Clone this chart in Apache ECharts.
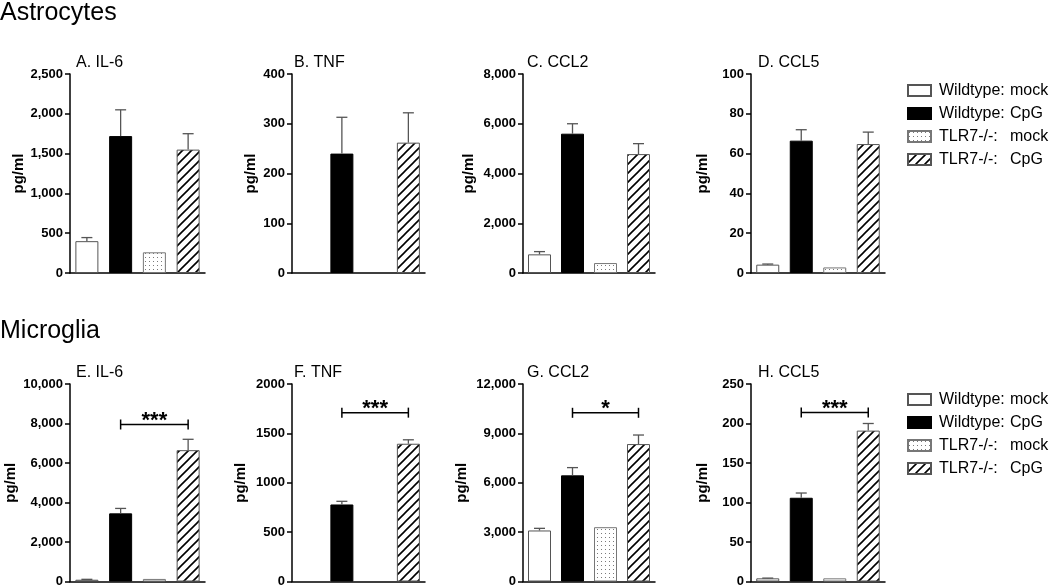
<!DOCTYPE html>
<html>
<head>
<meta charset="utf-8">
<script src="https://cdn.jsdelivr.net/npm/echarts@6/dist/echarts.min.js"></script>
<style>
html,body{margin:0;padding:0;background:#fff;}
#chart{width:1050px;height:588px;}
</style>
</head>
<body>
<div id="chart"></div>
<script>
// ---- DATA ----
const groups = ['Wildtype: mock', 'Wildtype: CpG', 'TLR7-/-: mock', 'TLR7-/-: CpG'];
const panelTitles = ['A. IL-6', 'B. TNF', 'C. CCL2', 'D. CCL5', 'E. IL-6', 'F. TNF', 'G. CCL2', 'H. CCL5'];
const yMax = [2500, 400, 8000, 100, 10000, 2000, 12000, 250];
const yInterval = [500, 100, 2000, 20, 2000, 500, 3000, 50];
const useComma = [true, true, true, true, true, false, true, true];
// means per panel (A..H); null = not shown
const wtMock = [400, null, 750, 4.2, 90, null, 3100, 4];
const wtCpG = [1720, 240, 5600, 66.5, 3450, 780, 6450, 106];
const koMock = [260, null, 400, 2.8, 130, null, 3300, 4];
const koCpG = [1550, 262, 4780, 64.8, 6650, 1395, 8350, 191];
// upper end of error bars (mean + SEM); null = none visible
const wtMockErr = [445, null, 860, 4.5, 110, null, 3230, 4.3];
const wtCpGErr = [2050, 313, 6000, 72, 3700, 812, 6920, 112];
const koMockErr = [null, null, null, null, null, null, null, null];
const koCpGErr = [1750, 322, 5200, 70.8, 7200, 1435, 8900, 200];
// significance brackets for panels E..H (index 4..7)
const bracketPanels = [4, 5, 6, 7];
const bracketY = [7950, 1710, 10250, 214];
const bracketLabels = ['***', '***', '*', '***'];
const sectionTitles = ['Astrocytes', 'Microglia'];

// ---- STYLE / LAYOUT ----
const FONT = "'Liberation Sans', Arial, Helvetica, sans-serif";
const colLeft = [70, 292, 523, 751];
const colWidth = [135, 133, 132, 134];
const rowTop = [74, 384];
const gridH = 199;
const nameGaps = [44, 34, 47, 41, 52, 44, 54, 41];
const titleLeft = [76, 294, 527, 758];

function makeHatch() {
  const c = document.createElement('canvas');
  c.width = 9; c.height = 9;
  const g = c.getContext('2d');
  g.fillStyle = '#fff'; g.fillRect(0, 0, 9, 9);
  g.strokeStyle = '#000'; g.lineWidth = 1.6;
  g.beginPath();
  g.moveTo(-1, 10); g.lineTo(10, -1);
  g.moveTo(-5, 5); g.lineTo(5, -5);
  g.moveTo(4, 14); g.lineTo(14, 4);
  g.stroke();
  return c;
}
function makeDots() {
  const c = document.createElement('canvas');
  c.width = 4; c.height = 4;
  const g = c.getContext('2d');
  g.fillStyle = '#fff'; g.fillRect(0, 0, 4, 4);
  g.fillStyle = '#7a7a7a'; g.fillRect(1, 1, 1, 1);
  return c;
}
const groupStyles = [
  { color: '#ffffff', borderColor: '#555', borderWidth: 1 },
  { color: '#000000', borderColor: '#000', borderWidth: 1 },
  { color: { image: makeDots(), repeat: 'repeat' }, borderColor: '#777', borderWidth: 1 },
  { color: { image: makeHatch(), repeat: 'repeat' }, borderColor: '#555', borderWidth: 1 }
];
const means = [wtMock, wtCpG, koMock, koCpG];
const errs = [wtMockErr, wtCpGErr, koMockErr, koCpGErr];

const grids = [], xAxes = [], yAxes = [], series = [], titles = [];
sectionTitles.forEach((t, r) => {
  titles.push({ text: t, left: 0, top: r === 0 ? 1 : 319, padding: 0,
    textStyle: { fontFamily: FONT, fontSize: 25, fontWeight: 'normal', color: '#000' } });
});
for (let p = 0; p < 8; p++) {
  const r = Math.floor(p / 4), c = p % 4;
  grids.push({ left: colLeft[c], width: colWidth[c], top: rowTop[r], height: gridH });
  titles.push({ text: panelTitles[p], left: titleLeft[c], top: rowTop[r] - 19, padding: 0,
    textStyle: { fontFamily: FONT, fontSize: 16, fontWeight: 'normal', color: '#000' } });
  xAxes.push({ type: 'category', gridIndex: p, data: groups,
    axisLine: { lineStyle: { color: '#000', width: 1.5 } },
    axisTick: { show: false }, axisLabel: { show: false } });
  const comma = useComma[p];
  yAxes.push({ type: 'value', gridIndex: p, min: 0, max: yMax[p], interval: yInterval[p],
    name: 'pg/ml', nameLocation: 'middle', nameGap: nameGaps[p],
    nameTextStyle: { fontFamily: FONT, fontSize: 15, fontWeight: 'bold', color: '#000' },
    axisLine: { show: true, lineStyle: { color: '#000', width: 1.5 } },
    axisTick: { show: true, length: 5, lineStyle: { color: '#000', width: 1.5 } },
    splitLine: { show: false },
    axisLabel: { fontFamily: FONT, fontSize: 13, fontWeight: 'bold', color: '#000', margin: 7,
      formatter: v => comma ? v.toLocaleString('en-US') : String(v) } });
  for (let g = 0; g < 4; g++) {
    const d = groups.map((_, i) => (i === g && means[g][p] != null) ? means[g][p] : '-');
    series.push({ type: 'bar', name: groups[g], xAxisIndex: p, yAxisIndex: p, stack: 'p' + p,
      barWidth: 23, data: d, itemStyle: groupStyles[g], animation: false, z: 2 });
  }
  const errData = [];
  for (let g = 0; g < 4; g++) {
    if (errs[g][p] != null && means[g][p] != null) errData.push([g, errs[g][p], means[g][p]]);
  }
  series.push({ type: 'custom', xAxisIndex: p, yAxisIndex: p, data: errData, z: 3, animation: false,
    renderItem: (params, api) => {
      const top = api.coord([api.value(0), api.value(1)]);
      const bot = api.coord([api.value(0), api.value(2)]);
      const st = { stroke: '#555', lineWidth: 1.3 };
      return { type: 'group', children: [
        { type: 'line', shape: { x1: top[0], y1: bot[1], x2: top[0], y2: top[1] }, style: st },
        { type: 'line', shape: { x1: top[0] - 5.5, y1: top[1], x2: top[0] + 5.5, y2: top[1] }, style: st }
      ] };
    } });
}
bracketPanels.forEach((p, k) => {
  series.push({ type: 'custom', xAxisIndex: p, yAxisIndex: p, z: 4, animation: false,
    data: [[1, 3, bracketY[k], bracketLabels[k]]],
    renderItem: (params, api) => {
      const a = api.coord([api.value(0), api.value(2)]);
      const b = api.coord([api.value(1), api.value(2)]);
      const st = { stroke: '#000', lineWidth: 1.5 };
      return { type: 'group', children: [
        { type: 'line', shape: { x1: a[0], y1: a[1], x2: b[0], y2: b[1] }, style: st },
        { type: 'line', shape: { x1: a[0], y1: a[1] - 5, x2: a[0], y2: a[1] + 5 }, style: st },
        { type: 'line', shape: { x1: b[0], y1: b[1] - 5, x2: b[0], y2: b[1] + 5 }, style: st },
        { type: 'text', style: { text: bracketLabels[k], x: (a[0] + b[0]) / 2, y: a[1] + 7,
          align: 'center', verticalAlign: 'bottom', font: 'bold 22px ' + FONT, fill: '#000' } }
      ] };
    } });
});

function legendAt(top) {
  return { orient: 'vertical', left: 907, top: top, itemWidth: 23, itemHeight: 11, itemGap: 6,
    icon: 'rect', selectedMode: false, data: groups, padding: 0,
    textStyle: { fontFamily: FONT, fontSize: 16, color: '#000', lineHeight: 17,
      rich: { a: { fontFamily: FONT, fontSize: 16, width: 71, padding: [0, 0, 0, 3], color: '#000' },
              b: { fontFamily: FONT, fontSize: 16, color: '#000' } } },
    formatter: n => { const i = n.indexOf(':'); return '{a|' + n.slice(0, i + 1) + '}{b|' + n.slice(i + 1).trim() + '}'; } };
}

const chart = echarts.init(document.getElementById('chart'), null, { renderer: 'canvas' });
chart.setOption({
  animation: false,
  backgroundColor: '#fff',
  title: titles,
  grid: grids,
  xAxis: xAxes,
  yAxis: yAxes,
  legend: [legendAt(82), legendAt(391)],
  series: series
});
</script>
</body>
</html>
